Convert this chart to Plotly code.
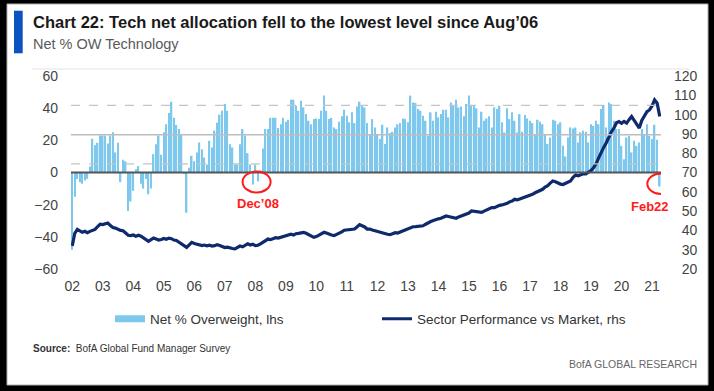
import pandas as pd
import plotly.graph_objects as go

# ---------------- data ----------------
start_month = "2002-11-01"
n_months = 232  # Nov-2002 .. Feb-2022

net_ow_tech = [
    -48, -15, -4, -6, -7, -5, -4, 3.7, 21, 17, 18.5, 23,
    23, 23, 18, 23, 25, 12.5, 18.5, -6, 8, 7, -24, -18,
    -11.4, 2, 4, -7, -10, -4, -13.5, -10, 11.4, 17.6, 23, 11,
    25, 30, 37, 44, 34, 29.5, 27, 24, -1, -25, 3, 10.4,
    7, 12.5, 18.7, 14.5, 9.3, 5, 19.7, 15.6, 26, 31, 36, 38.4,
    42.6, 38.4, 17.6, 15.6, 5, 5, 17.6, 27, 23, 12, 5, -7.5,
    5, -5.4, 1.3, 15, 27, 27, 34, 34, 34, 27.6, 30, 34,
    31.6, 32.8, 45.3, 45.3, 41.5, 38.4, 44.6, 40.5, 36.3, 32.2, 30, 33.2,
    33.6, 33.2, 38.4, 47.8, 38.4, 33.2, 34, 28, 27, 31.6, 34.9, 39,
    35.3, 31.2, 37.4, 30.7, 41.1, 44, 42, 40.5, 30.7, 23.3, 33.2, 28,
    23.3, 20.8, 29.7, 17.7, 28, 24.5, 25.3, 28, 30, 30.7, 33.6, 33.2,
    31.2, 47.8, 43.6, 43.2, 39.5, 38.4, 35.3, 32.2, 22.8, 37.4, 32.2, 37.8,
    34.3, 36.3, 39, 39, 34.3, 43.6, 41.5, 45.3, 40.5, 41.1, 34.9, 42.6,
    47.8, 42, 41.5, 39.9, 28, 37.8, 32.2, 33.6, 34.9, 28, 40.5, 39.5,
    41.5, 31.2, 24.9, 39.9, 33.2, 37.4, 32.2, 24.9, 36.3, 25.3, 35.7, 33.6,
    32.2, 30.7, 23.9, 32.8, 31.6, 30, 23.9, 17.7, 21.8, 32.8, 32.2, 30,
    31.2, 16.6, 10, 21.8, 28, 27.4, 28, 18.7, 24.9, 26, 25.3, 18.7,
    30, 29, 32.2, 30, 39.5, 42, 28, 43.6, 42.6, 32.2, 27, 27,
    16.6, 8.3, 21.8, 22.8, 12.5, 19.7, 16.6, 18.7, 27, 23.9, 30, 22.8,
    20.8, 29.7, 20.4, -8.7,
]

sector_perf = [
    32, 38.5, 40.5, 39.5, 39, 39.5, 38.8, 39.5, 39.8, 40.5, 42, 43.2,
    43, 43.6, 43.8, 42.5, 41.5, 41.2, 40.5, 40, 39.8, 38.5, 37.5, 37.3,
    37.6, 37, 37.5, 37, 36, 35, 34.3, 35.2, 36, 35.5, 35, 35.3,
    35.8, 35.4, 36, 35.7, 35, 34.8, 33.8, 33, 32, 31.2, 32.5, 33.8,
    33.2, 32.8, 32.5, 32.1, 32.4, 32, 32.3, 31.9, 32.1, 32.6, 32.2, 31.8,
    31.1, 31.3, 30.8, 30.6, 30.4, 31, 31.9, 31.5, 32.3, 33, 32.4, 32.8,
    32.1, 32.3, 33, 33.8, 34.5, 35.5, 35.2, 35.8, 36.2, 36, 36.4, 36.8,
    37.2, 37.5, 38, 37.6, 38.3, 38.5, 38.8, 39, 38.5, 37.8, 37, 36.4,
    36.8, 37.5, 38.2, 39, 38.6, 38, 37.6, 37.3, 37.8, 38.5, 39.2, 40.1,
    40.3, 40.1, 40.5, 40.7, 41.8, 43, 42.4, 41.8, 40.7, 40.7, 40.2, 39.8,
    39.3, 39, 38.6, 38.2, 38, 37.8, 38.2, 38.8, 38.6, 39.2, 39.8, 40.3,
    40.8, 41.5, 41.9, 42, 42.2, 42.3, 42.4, 43.2, 44, 44.6, 45.1, 45.7,
    46, 46.3, 46.8, 47.5, 47.2, 47, 46.4, 46.3, 47, 47.6, 48, 48.4,
    49, 50.1, 49.8, 49.5, 49.2, 49.3, 50, 50.5, 51, 51.8, 51.8, 52.5,
    53, 53.2, 53.5, 54, 54.8, 55.2, 56.1, 55.8, 56.3, 56.8, 57, 57.8,
    58.3, 58.7, 59.5, 60.2, 60.8, 61.3, 62.5, 63.2, 64.5, 65.6, 65.2, 64.5,
    64, 63.8, 64.5, 65, 65.6, 67.5, 68.7, 68.3, 69, 69.3, 69.3, 70.2,
    71, 72.5, 74.5, 77.6, 80.5, 83, 85.3, 88.5, 91, 93, 95.8, 96.4,
    95.5, 96.5, 95.6, 97.5, 99, 97, 95, 93, 97, 99, 101.5, 102.4,
    104.5, 107.6, 105.9, 99,
]

year_labels = ["02", "03", "04", "05", "06", "07", "08", "09", "10", "11",
               "12", "13", "14", "15", "16", "17", "18", "19", "20", "21"]

# reference levels on the lhs (average and +/- 1 st.dev.)
avg_level = 23.5
upper_level = 41.7
lower_level = 5.4

left_ticks = [-60, -40, -20, 0, 20, 40, 60]
right_ticks = [20, 30, 40, 50, 60, 70, 80, 90, 100, 110, 120]

dates = pd.date_range(start_month, periods=n_months, freq="MS")
tick_dates = [dates[i] for i in range(0, n_months, 12)][:len(year_labels)]
dec08 = pd.Timestamp("2008-12-01")
feb22 = pd.Timestamp("2022-02-01")

# ---------------- style ----------------
BAR_C = "#7dc8ec"
LINE_C = "#0f2a6c"
W, H = 714, 391
ML, MR, MT, MB = 71, 53, 76, 122
PW, PH = W - ML - MR, H - MT - MB


def px(X):
    return (X - ML) / PW


def py(Y):
    return (H - MB - Y) / PH


FONT = "Liberation Sans, Arial, sans-serif"

fig = go.Figure()
fig.add_trace(go.Bar(x=dates, y=net_ow_tech, marker=dict(color=BAR_C, line=dict(width=0)),
                     name="Net % Overweight, lhs", showlegend=False, legendgroup="bars",
                     yaxis="y"))
fig.add_trace(go.Scatter(x=[None], y=[None], mode="lines", line=dict(color=BAR_C, width=7),
                         name="Net % Overweight, lhs", legendgroup="bars", yaxis="y"))
fig.add_trace(go.Scatter(x=dates, y=sector_perf, mode="lines",
                         line=dict(color=LINE_C, width=3.2),
                         name="Sector Performance vs Market, rhs", yaxis="y2"))

x_lo = dates[0] - pd.Timedelta(days=15)
x_hi = dates[-1] + pd.Timedelta(days=15)

shapes = [
    dict(type="rect", xref="paper", yref="paper", x0=px(7), x1=px(708), y0=py(385), y1=py(4),
         fillcolor="white", line=dict(color="#b0b0b0", width=1), layer="below"),
    dict(type="rect", xref="paper", yref="paper", x0=px(14), x1=px(22.7), y0=py(53.3), y1=py(10.7),
         fillcolor="#0b53c1", line=dict(width=0), layer="below"),
    dict(type="line", xref="paper", yref="paper", x0=px(32), x1=px(690), y0=py(69), y1=py(69),
         line=dict(color="#e3e3e3", width=1)),
    dict(type="line", xref="paper", yref="y", x0=0, x1=1, y0=upper_level, y1=upper_level,
         line=dict(color="#c4c4c4", width=1.2, dash="dash"), layer="above"),
    dict(type="line", xref="paper", yref="y", x0=0, x1=1, y0=avg_level, y1=avg_level,
         line=dict(color="#bdbdbd", width=1.5), layer="above"),
    dict(type="line", xref="paper", yref="y", x0=0, x1=1, y0=lower_level, y1=lower_level,
         line=dict(color="#c4c4c4", width=1.2, dash="dash"), layer="above"),
    dict(type="line", xref="paper", yref="y", x0=0, x1=1, y0=0, y1=0,
         line=dict(color="#555555", width=2), layer="above"),
    dict(type="circle", xref="x", yref="y", xsizemode="pixel", ysizemode="pixel",
         xanchor=dec08, yanchor=net_ow_tech[73], x0=-15.3, x1=12.7, y0=-11.3, y1=9.7,
         line=dict(color="#ff1a1a", width=2), layer="above"),
    dict(type="circle", xref="x", yref="y", xsizemode="pixel", ysizemode="pixel",
         xanchor=feb22, yanchor=-7, x0=-12.4, x1=15, y0=-10.3, y1=10.3,
         line=dict(color="#ff1a1a", width=2), layer="above"),
]

annotations = [
    dict(text="<b>Chart 22: Tech net allocation fell to the lowest level since Aug’06</b>",
         xref="paper", yref="paper", x=px(31), y=py(22), xanchor="left", yanchor="middle",
         showarrow=False, font=dict(family=FONT, size=16.5, color="#1a1a1a")),
    dict(text="Net % OW Technology", xref="paper", yref="paper", x=px(31), y=py(44),
         xanchor="left", yanchor="middle", showarrow=False,
         font=dict(family=FONT, size=14.5, color="#5a5a5a")),
    dict(text="<b>Source:</b>  BofA Global Fund Manager Survey", xref="paper", yref="paper",
         x=px(31), y=py(348), xanchor="left", yanchor="middle", showarrow=False,
         font=dict(family=FONT, size=10, color="#333333")),
    dict(text="BofA GLOBAL RESEARCH", xref="paper", yref="paper", x=px(699), y=py(364),
         xanchor="right", yanchor="middle", showarrow=False,
         font=dict(family=FONT, size=10.5, color="#666666")),
    dict(text="<b>Dec’08</b>", xref="x", yref="y", x=dec08, y=-19, xanchor="center",
         yanchor="middle", showarrow=False, font=dict(family=FONT, size=13, color="#ff1a1a")),
    dict(text="<b>Feb22</b>", xref="x", yref="y", x=feb22, y=-21.4, xshift=-10,
         xanchor="center", yanchor="middle", showarrow=False,
         font=dict(family=FONT, size=13, color="#ff1a1a")),
]

right_text = [("\u2007" + str(v)) if v < 100 else str(v) for v in right_ticks]

fig.update_layout(
    width=W, height=H, margin=dict(l=ML, r=MR, t=MT, b=MB, autoexpand=False),
    paper_bgcolor="black", plot_bgcolor="white",
    bargap=0.35, barmode="overlay",
    font=dict(family=FONT, size=14, color="#444444"),
    xaxis=dict(type="date", range=[x_lo, x_hi], tickmode="array", tickvals=tick_dates,
               ticktext=year_labels, showgrid=False, zeroline=False, showline=False,
               ticks="", ticklabelstandoff=7, tickfont=dict(size=14, color="#444444")),
    yaxis=dict(range=[-60, 60], tickmode="array", tickvals=left_ticks, showgrid=False,
               zeroline=False, showline=False, ticks="", ticklabelstandoff=12,
               tickfont=dict(size=14, color="#444444")),
    yaxis2=dict(range=[20, 120], overlaying="y", side="right", tickmode="array",
                tickvals=right_ticks, ticktext=right_text, showgrid=False, zeroline=False,
                showline=False, ticks="", ticklabelstandoff=12,
                tickfont=dict(size=14, color="#444444")),
    legend=dict(orientation="h", x=px(110), y=py(319), xanchor="left", yanchor="middle",
                bgcolor="rgba(0,0,0,0)", font=dict(family=FONT, size=13.5, color="#333333"),
                entrywidth=222, entrywidthmode="pixels", itemclick=False),
    shapes=shapes, annotations=annotations,
)

fig.write_html("out.html", post_script="document.body.style.margin='0';",
               config={"displayModeBar": False})
